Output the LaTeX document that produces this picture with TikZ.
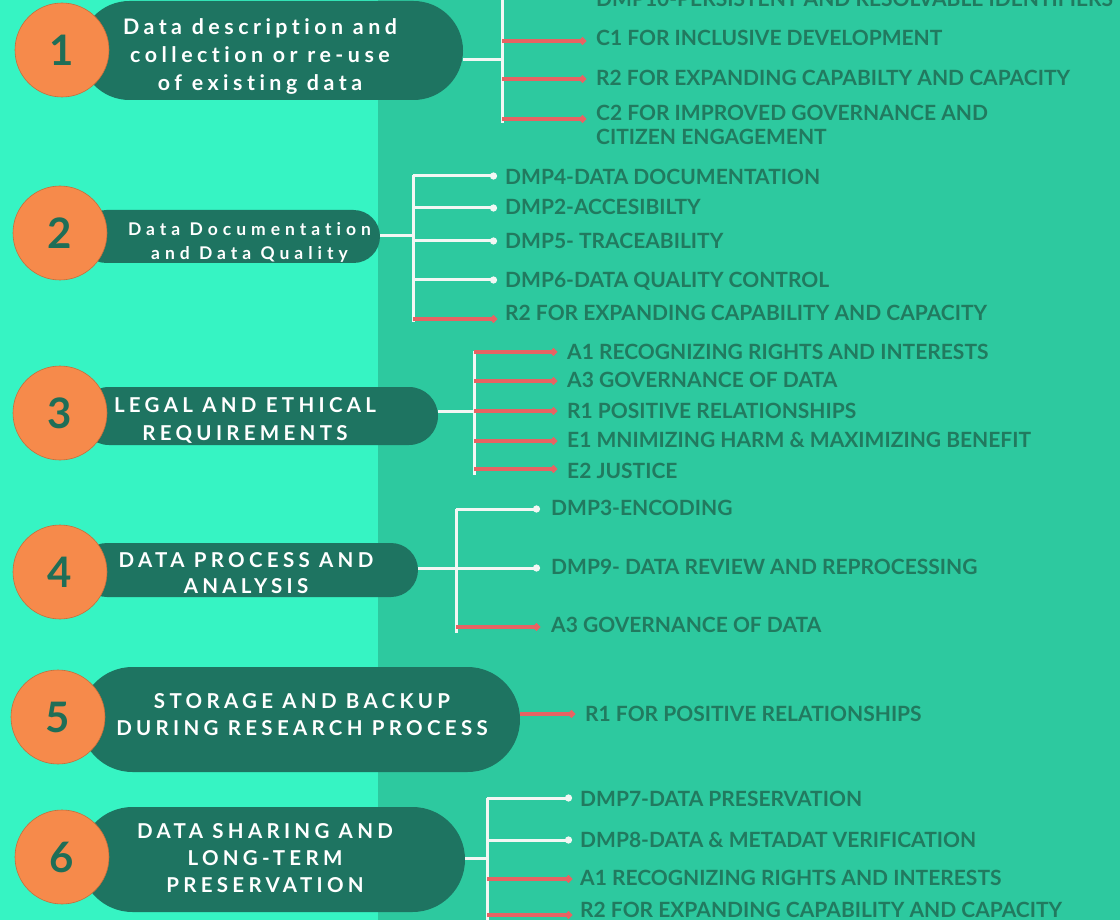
\documentclass[tikz,border=0pt]{standalone}
\usepackage{fontspec}
\setmainfont{Lato}
\usetikzlibrary{arrows.meta}
\definecolor{bgL}{HTML}{36F4C3}
\definecolor{bgR}{HTML}{2DC99F}
\definecolor{pillc}{HTML}{1E7461}
\definecolor{orng}{HTML}{F68A4B}
\definecolor{numc}{HTML}{1F6E57}
\definecolor{labc}{HTML}{217A5F}
\definecolor{redl}{HTML}{E76363}
\definecolor{whl}{HTML}{F2F7F4}
\newfontfamily\pillfontA{Lato}[LetterSpace=21,Ligatures=NoCommon]
\newfontfamily\pillfontB{Lato}[LetterSpace=28.5,Ligatures=NoCommon]
\newfontfamily\pillfontC{Lato}[LetterSpace=21,Ligatures=NoCommon]
\newfontfamily\labfont{Lato}[Ligatures=NoCommon]
\tikzset{
  pillbox/.style={fill=pillc, draw=none, inner sep=0pt, outer sep=0pt},
  numcirc/.style={circle, fill=orng, draw=orng!80!black, line width=0.6pt, minimum size=94pt, inner sep=0pt,
    text=numc, font=\bfseries\fontsize{42}{42}\selectfont},
  pilltext/.style={text=white, align=center, inner sep=0pt},
  lab/.style={anchor=base west, inner sep=0pt, text=labc, font=\labfont\bfseries\fontsize{21}{24}\selectfont, yshift=-7.5pt},
  wline/.style={draw=whl, line width=3pt},
  wbr/.style={draw=whl, line width=3pt, -{Circle[length=7pt,width=7pt]}},
  rbr/.style={draw=redl, line width=3.5pt, -{Circle[length=7pt,width=7pt]}},
}
\begin{document}
\begin{tikzpicture}[x=1pt,y=-1pt]
\useasboundingbox (0,0) rectangle (1120,920);
\clip (0,0) rectangle (1120,920);
\fill[bgL] (0,0) rectangle (1120,920);
\fill[bgR] (378,0) rectangle (1120,920);

% pills
\node[pillbox, minimum width=383pt, minimum height=99pt, rounded corners=49.5pt] (p1) at (271.5,50.5) {};
\node[pillbox, minimum width=300pt, minimum height=53pt, rounded corners=26.5pt] (p2) at (230,236.5) {};
\node[pillbox, minimum width=358pt, minimum height=58pt, rounded corners=29pt] (p3) at (259,416) {};
\node[pillbox, minimum width=338pt, minimum height=54pt, rounded corners=27pt] (p4) at (249,570) {};
\node[pillbox, minimum width=440pt, minimum height=105pt, rounded corners=52.5pt] (p5) at (300,719.5) {};
\node[pillbox, minimum width=385pt, minimum height=105pt, rounded corners=52.5pt] (p6) at (272.5,859.5) {};

% circles
\node[numcirc] (c1) at (62,50) {1};
\node[numcirc] (c2) at (60,233) {2};
\node[numcirc] (c3) at (60,413) {3};
\node[numcirc] (c4) at (60,572) {4};
\node[numcirc] (c5) at (58,717) {5};
\node[numcirc] (c6) at (62,857) {6};

% pill texts
\node[pilltext, font=\pillfontA\bfseries\fontsize{21.4}{28}\selectfont] (t1) at (260,56) {Data description and\\collection or re-use\\of existing data};
\node[pilltext, font=\pillfontB\bfseries\fontsize{17.5}{24}\selectfont] (t2) at (249.5,242) {Data Documentation\\and Data Quality};
\node[pilltext, font=\pillfontC\bfseries\fontsize{20.5}{28}\selectfont] (t3) at (245,420) {LEGAL AND ETHICAL\\REQUIREMENTS};
\node[pilltext, font=\pillfontC\bfseries\fontsize{20.5}{26}\selectfont] (t4) at (246,573.5) {DATA PROCESS AND\\ANALYSIS};
\node[pilltext, font=\pillfontC\bfseries\fontsize{20.5}{27}\selectfont] (t5) at (302,714.5) {STORAGE AND BACKUP\\DURING RESEARCH PROCESS};
\node[pilltext, font=\pillfontC\bfseries\fontsize{20.5}{27}\selectfont] (t6) at (265,858) {DATA SHARING AND\\LONG-TERM\\PRESERVATION};

% ---- group 1
\coordinate (k1) at (502,60);
\coordinate (k1t) at (502,0);
\coordinate (k1b) at (502,123);
\draw[wline] (p1.east |- k1) -- (k1);
\draw[wline] (k1t) -- (k1b);
\node[lab] (l10) at (596,-1) {DMP10-PERSISTENT AND RESOLVABLE IDENTIFIERS};
\node[lab] (l11) at (596,38) {C1 FOR INCLUSIVE DEVELOPMENT};
\node[lab] (l12) at (596,78) {R2 FOR EXPANDING CAPABILTY AND CAPACITY};
\node[lab] (l13) at (596,113) {C2 FOR IMPROVED GOVERNANCE AND};
\node[lab] (l13b) at (596,137) {CITIZEN ENGAGEMENT};
\foreach \y/\n in {41/a,79/b,119/c}{
  \coordinate (e1\n) at (586,\y);
  \draw[rbr] (k1 |- e1\n) -- (e1\n);
}

% ---- group 2
\coordinate (k2) at (413,236);
\coordinate (k2t) at (413,175);
\coordinate (k2b) at (413,322);
\draw[wline] (p2.east |- k2) -- (k2);
\draw[wline] (k2t) -- (k2b);
\foreach \y/\n in {176/a,208/b,241/c,280/d}{
  \coordinate (e2\n) at (497,\y);
  \draw[wbr] (k2 |- e2\n) -- (e2\n);
}
\coordinate (e2e) at (497,319);
\draw[rbr] (k2 |- e2e) -- (e2e);
\node[lab] (l21) at (505,177) {DMP4-DATA DOCUMENTATION};
\node[lab] (l22) at (505,207) {DMP2-ACCESIBILTY};
\node[lab] (l23) at (505,241) {DMP5- TRACEABILITY};
\node[lab] (l24) at (505,280) {DMP6-DATA QUALITY CONTROL};
\node[lab] (l25) at (505,313) {R2 FOR EXPANDING CAPABILITY AND CAPACITY};

% ---- group 3
\coordinate (k3) at (474,411);
\coordinate (k3t) at (474,351);
\coordinate (k3b) at (474,475);
\draw[wline] (p3.east |- k3) -- (k3);
\draw[wline] (k3t) -- (k3b);
\foreach \y/\n in {352/a,381/b,411/c,441/d,469/e}{
  \coordinate (e3\n) at (557,\y);
  \draw[rbr] (k3 |- e3\n) -- (e3\n);
}
\node[lab] (l31) at (567,352) {A1 RECOGNIZING RIGHTS AND INTERESTS};
\node[lab] (l32) at (567,380) {A3 GOVERNANCE OF DATA};
\node[lab] (l33) at (567,411) {R1 POSITIVE RELATIONSHIPS};
\node[lab] (l34) at (567,440) {E1 MNIMIZING HARM \& MAXIMIZING BENEFIT};
\node[lab] (l35) at (567,471) {E2 JUSTICE};

% ---- group 4
\coordinate (k4) at (456,568);
\coordinate (k4t) at (456,509);
\coordinate (k4b) at (456,633);
\draw[wline] (p4.east |- k4) -- (k4);
\draw[wline] (k4t) -- (k4b);
\foreach \y/\n in {509/a,568/b}{
  \coordinate (e4\n) at (540,\y);
  \draw[wbr] (k4 |- e4\n) -- (e4\n);
}
\coordinate (e4c) at (540,627);
\draw[rbr] (k4 |- e4c) -- (e4c);
\node[lab] (l41) at (551,508) {DMP3-ENCODING};
\node[lab] (l42) at (551,567) {DMP9- DATA REVIEW AND REPROCESSING};
\node[lab] (l43) at (551,625) {A3 GOVERNANCE OF DATA};

% ---- group 5
\coordinate (e5) at (575,714);
\draw[rbr] (p5.east |- e5) -- (e5);
\node[lab] (l51) at (585,714) {R1 FOR POSITIVE RELATIONSHIPS};

% ---- group 6
\coordinate (k6) at (487,858);
\coordinate (k6t) at (487,798);
\coordinate (k6b) at (487,925);
\draw[wline] (p6.east |- k6) -- (k6);
\draw[wline] (k6t) -- (k6b);
\foreach \y/\n in {798/a,840/b}{
  \coordinate (e6\n) at (572,\y);
  \draw[wbr] (k6 |- e6\n) -- (e6\n);
}
\foreach \y/\n in {879/c,915/d}{
  \coordinate (e6\n) at (572,\y);
  \draw[rbr] (k6 |- e6\n) -- (e6\n);
}
\node[lab] (l61) at (580,799) {DMP7-DATA PRESERVATION};
\node[lab] (l62) at (580,840) {DMP8-DATA \& METADAT VERIFICATION};
\node[lab] (l63) at (580,878) {A1 RECOGNIZING RIGHTS AND INTERESTS};
\node[lab] (l64) at (580,910) {R2 FOR EXPANDING CAPABILITY AND CAPACITY};
\end{tikzpicture}
\end{document}
